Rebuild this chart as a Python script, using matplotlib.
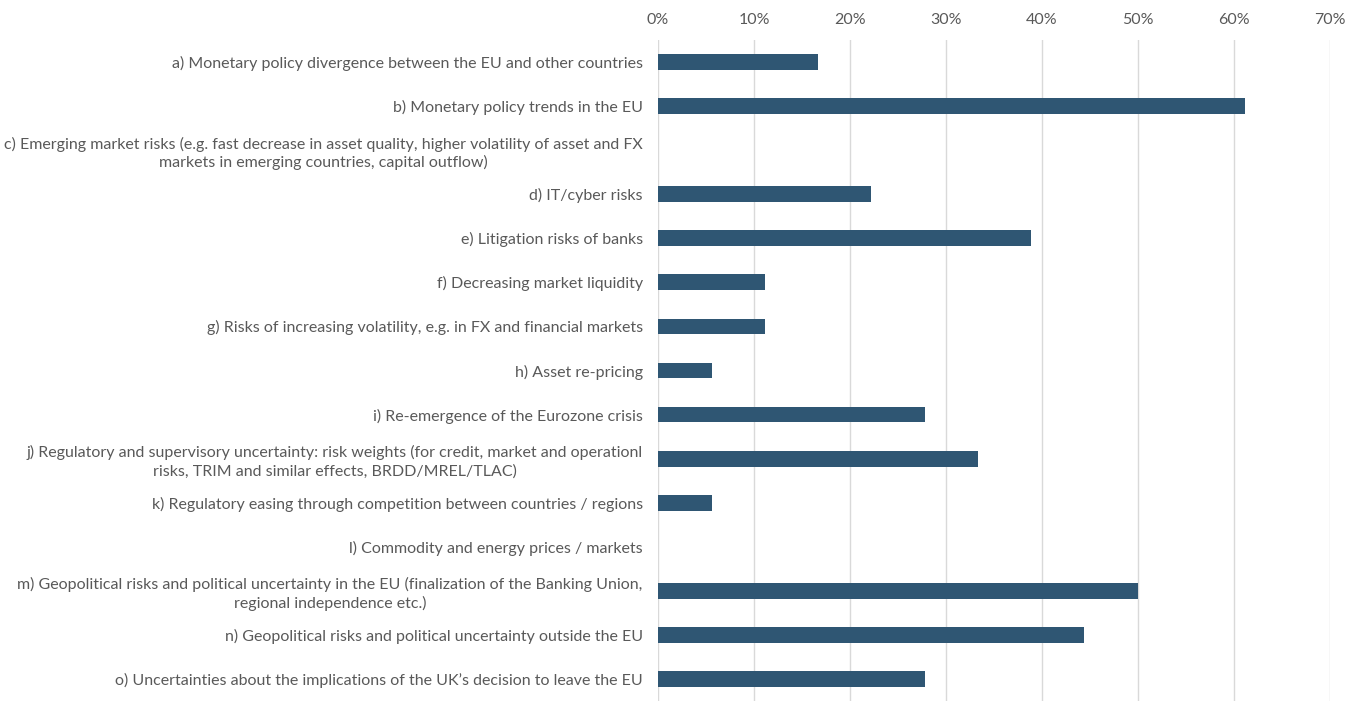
import matplotlib
matplotlib.use("Agg")
import matplotlib.pyplot as plt
from matplotlib.ticker import PercentFormatter

# Share of respondents naming each risk
labels = [
    "a) Monetary policy divergence between the EU and other countries",
    "b) Monetary policy trends in the EU",
    "c) Emerging market risks (e.g. fast decrease in asset quality, higher volatility of asset and FX\nmarkets in emerging countries, capital outflow)",
    "d) IT/cyber risks",
    "e) Litigation risks of banks",
    "f) Decreasing market liquidity",
    "g) Risks of increasing volatility, e.g. in FX and financial markets",
    "h) Asset re-pricing",
    "i) Re-emergence of the Eurozone crisis",
    "j) Regulatory and supervisory uncertainty: risk weights (for credit, market and operationl\nrisks, TRIM and similar effects, BRDD/MREL/TLAC)",
    "k) Regulatory easing through competition between countries / regions",
    "l) Commodity and energy prices / markets",
    "m) Geopolitical risks and political uncertainty in the EU (finalization of the Banking Union,\nregional independence etc.)",
    "n) Geopolitical risks and political uncertainty outside the EU",
    "o) Uncertainties about the implications of the UK\u2019s decision to leave the EU",
]
values = [16.7, 61.1, 0.0, 22.2, 38.9, 11.1, 11.1, 5.6, 27.8, 33.3, 5.6, 0.0, 50.0, 44.4, 27.8]
xticks = [0, 10, 20, 30, 40, 50, 60, 70]

plt.rcParams["font.family"] = ["Lato", "DejaVu Sans"]

fig = plt.figure(figsize=(13.64, 7.01), dpi=100)
ax = fig.add_axes([658 / 1364, 0.0, 672 / 1364, 1 - 40 / 701])

pos = list(range(len(labels)))
ax.barh(pos, values, height=0.36, color="#2F5673", linewidth=0, zorder=3)

ax.set_xlim(0, 70)
ax.set_ylim(len(labels) - 0.5, -0.5)
ax.set_xticks(xticks)
ax.xaxis.set_major_formatter(PercentFormatter(decimals=0))
ax.xaxis.tick_top()
ax.tick_params(axis="x", length=0, pad=9, labelsize=11.5, labelcolor="#595959")
ax.tick_params(axis="y", length=0, pad=11, labelsize=11.5, labelcolor="#595959")
ax.set_yticks(pos)
ax.set_yticklabels(labels, multialignment="center", linespacing=1.3)
ax.grid(axis="x", color="#D9D9D9", linewidth=1.0, zorder=0)
for s in ax.spines.values():
    s.set_visible(False)

fig.savefig("out.png", dpi=100)
